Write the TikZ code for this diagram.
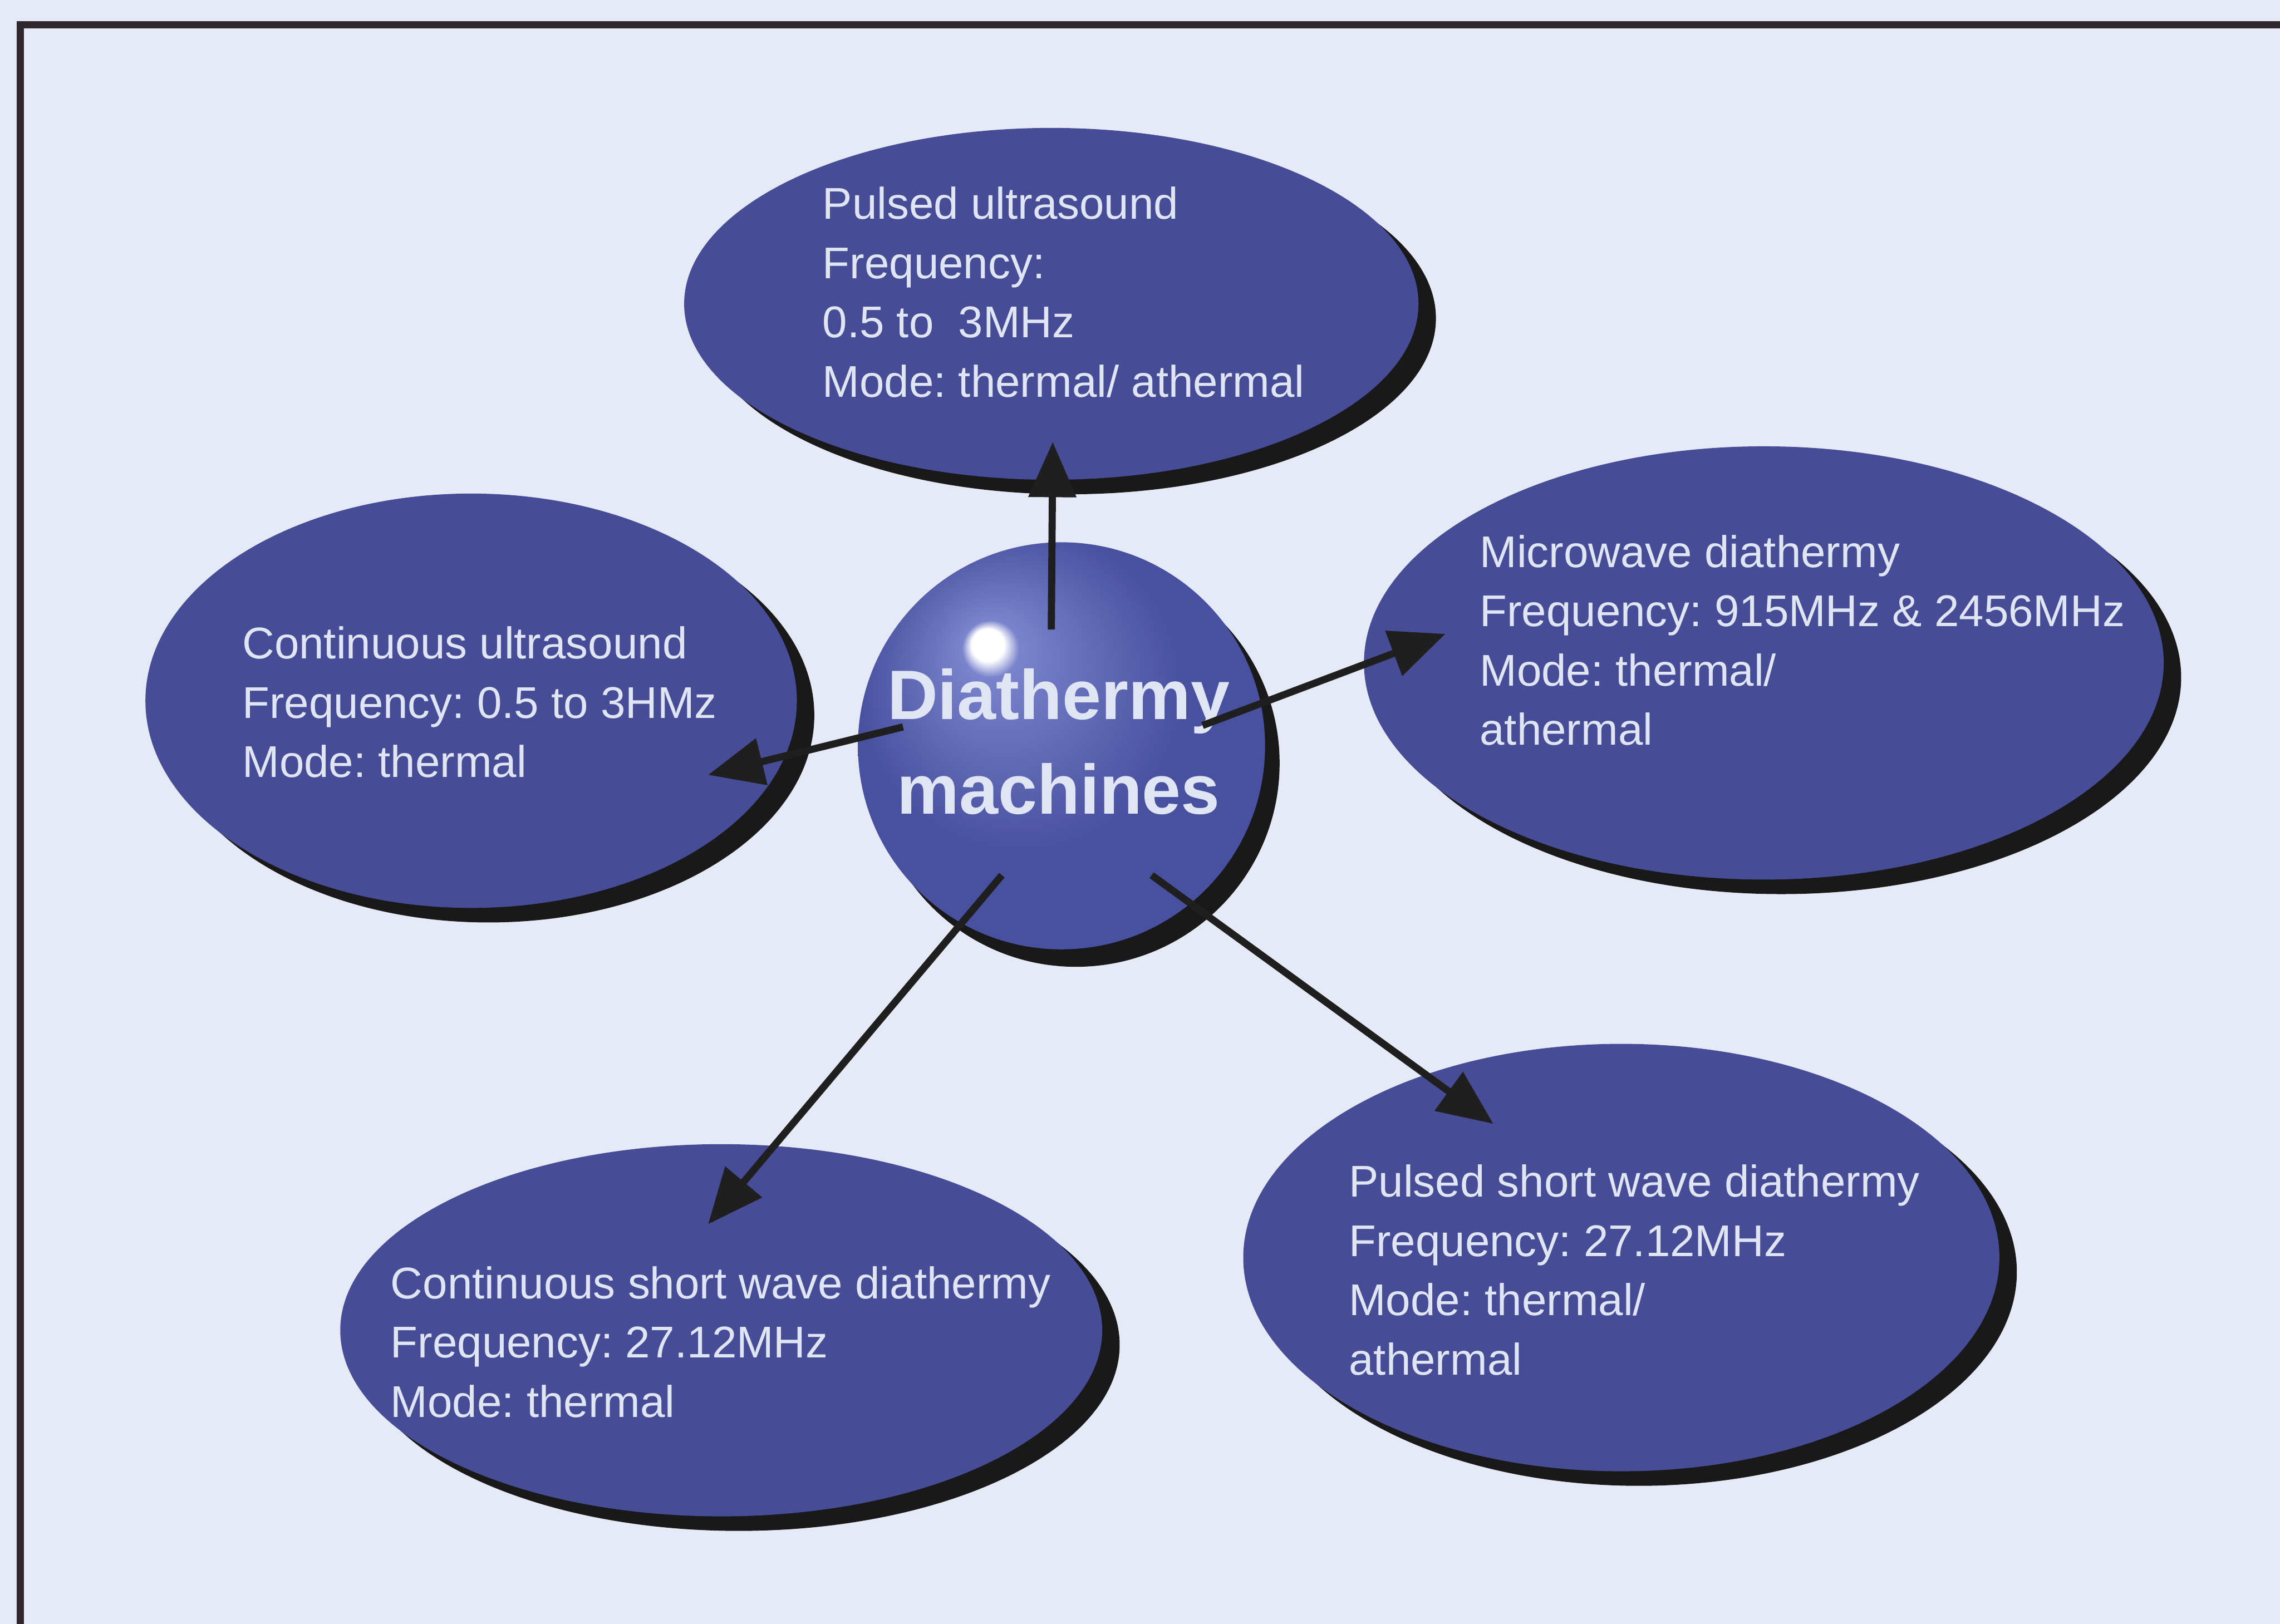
\documentclass[tikz,border=0pt]{standalone}
\usepackage{fontspec}
\setmainfont{Liberation Sans}
\usepackage{tikz}
\usetikzlibrary{shapes.geometric,shadows,arrows.meta}
\frenchspacing

\definecolor{paper}{RGB}{229,234,246}
\definecolor{blob}{RGB}{71,76,150}
\definecolor{ink}{RGB}{224,229,244}
\definecolor{edge}{RGB}{48,40,44}
\definecolor{ballmid}{RGB}{72,80,160}
\definecolor{balllight}{RGB}{122,132,204}
\definecolor{ballrim}{RGB}{42,46,104}

\pgfdeclareradialshading{sphere}{\pgfpoint{-9.5bp}{13bp}}{color(0bp)=(white); color(2bp)=(white); color(3.5bp)=(balllight); color(8bp)=(balllight!70!ballmid); color(20bp)=(ballmid); color(31bp)=(ballmid); color(42bp)=(ballrim)}

\begin{document}
\begin{tikzpicture}[
  blob/.style={ellipse, fill=blob, inner sep=0pt,
    drop shadow={shadow xshift=0.12cm, shadow yshift=-0.1cm, fill=black!90, opacity=1}},
  txt/.style={inner sep=0pt, anchor=west, align=left, text=ink,
    font=\fontsize{8.7}{11.6}\selectfont},
  link/.style={draw=black!88, line width=1.4pt, -{Triangle[length=3.8mm, width=3.2mm]}}
]

\clip (0,0) rectangle (15.68,11.17);
\fill [paper] (0,0) rectangle (15.68,11.17);
\draw [edge, line width=1.4pt] (0.14,-1) -- (0.14,11.0) -- (16.5,11.0);

% the five machines
\node [blob, minimum width=5.05cm, minimum height=2.42cm] (pus) at (7.23,9.08) {};
\node [blob, minimum width=4.48cm, minimum height=2.85cm] (cus) at (3.24,6.35) {};
\node [blob, minimum width=5.50cm, minimum height=2.98cm] (mwd) at (12.13,6.61) {};
\node [blob, minimum width=5.24cm, minimum height=2.56cm] (cswd) at (4.96,2.02) {};
\node [blob, minimum width=5.20cm, minimum height=2.94cm] (pswd) at (11.15,2.52) {};

% hub
\node [circle, minimum size=2.8cm, shading=sphere,
  drop shadow={shadow xshift=0.1cm, shadow yshift=-0.12cm, fill=black!90, opacity=1}] (hub) at (7.30,6.04) {};
\node [inner sep=0pt, align=center, text=ink, font=\bfseries\fontsize{13.7}{18.5}\selectfont] (hubT) at (7.28,6.07) {Diathermy\\machines};

\node [txt] (pusT) at (5.65,9.16) {Pulsed ultrasound\\Frequency:\\0.5 to\ \ 3MHz\\Mode: thermal/ athermal};
\node [txt] (cusT) at (1.66,6.34) {Continuous ultrasound\\Frequency: 0.5 to 3HMz\\Mode: thermal};
\node [txt] (mwdT) at (10.17,6.765) {Microwave diathermy\\Frequency: 915MHz \& 2456MHz\\Mode: thermal/\\athermal};
\node [txt] (cswdT) at (2.68,1.94) {Continuous short wave diathermy\\Frequency: 27.12MHz\\Mode: thermal};
\node [txt] (pswdT) at (9.27,2.435) {Pulsed short wave diathermy\\Frequency: 27.12MHz\\Mode: thermal/\\athermal};

% arrows
\coordinate (hub1) at (7.23,6.84);  \coordinate (pusA) at (7.24,8.13);
\coordinate (hub2) at (6.21,6.17);  \coordinate (cusA) at (4.87,5.84);
\coordinate (hub3) at (8.27,6.18);  \coordinate (mwdA) at (9.94,6.81);
\coordinate (hub4) at (6.89,5.15);  \coordinate (cswdA) at (4.87,2.75);
\coordinate (hub5) at (7.92,5.15);  \coordinate (pswdA) at (10.27,3.44);

\draw [link] (hub1) -- (pusA);
\draw [link] (hub2) -- (cusA);
\draw [link] (hub3) -- (mwdA);
\draw [link] (hub4) -- (cswdA);
\draw [link] (hub5) -- (pswdA);

\end{tikzpicture}
\end{document}
